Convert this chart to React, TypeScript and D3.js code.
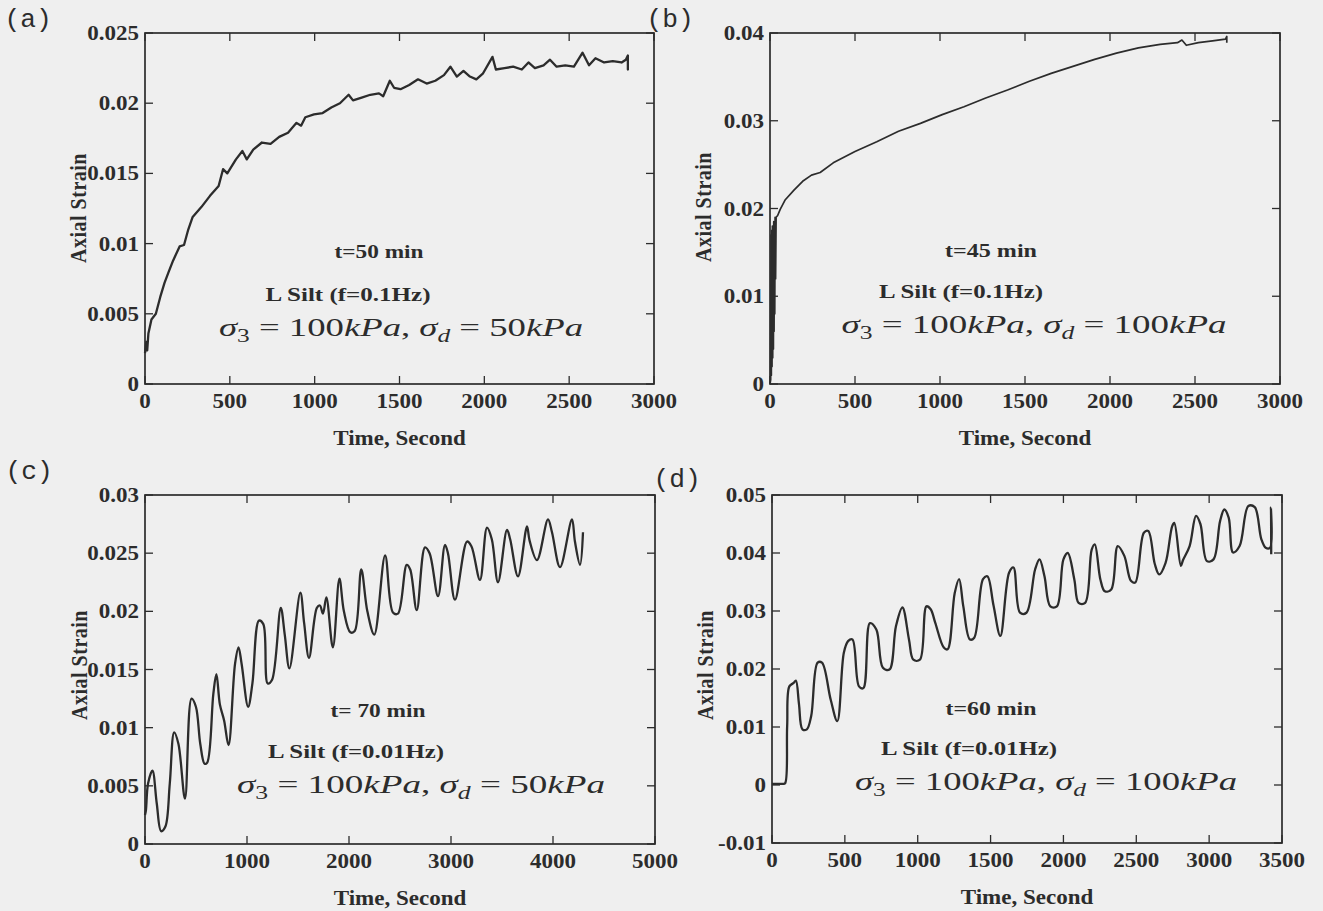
import React, { useEffect, useRef } from 'react';
import * as d3 from 'd3';

// ---- data: [time (s), axial strain] ----

// (a) t=50 min, f=0.1Hz, sigma_d = 50kPa
const creepA: [number, number][] = [
  [0, 0.0022], [8, 0.003], [13, 0.0024], [20, 0.0036], [38, 0.0046], [64, 0.005], [90, 0.0062],
  [115, 0.0072], [140, 0.008], [166, 0.0088], [204, 0.0098], [230, 0.0099], [255, 0.011],
  [281, 0.0119], [332, 0.0126], [383, 0.0134], [434, 0.0141], [460, 0.0153], [485, 0.015],
  [536, 0.016], [574, 0.0166], [600, 0.016], [638, 0.0167], [689, 0.0172], [740, 0.0171],
  [791, 0.0176], [843, 0.0179], [893, 0.0186], [920, 0.0184], [945, 0.019], [996, 0.0192],
  [1047, 0.0193], [1098, 0.0197], [1149, 0.02], [1200, 0.0206], [1226, 0.0202], [1277, 0.0204],
  [1328, 0.0206], [1379, 0.0207], [1404, 0.0205], [1443, 0.0216], [1468, 0.0211], [1506, 0.021],
  [1557, 0.0213], [1609, 0.0217], [1660, 0.0214], [1711, 0.0216], [1762, 0.022], [1800, 0.0226],
  [1838, 0.0219], [1877, 0.0223], [1915, 0.0219], [1953, 0.0217], [1991, 0.0221], [2048, 0.0233],
  [2068, 0.0224], [2119, 0.0225], [2170, 0.0226], [2221, 0.0224], [2260, 0.0229], [2298, 0.0225],
  [2349, 0.0227], [2387, 0.0231], [2426, 0.0226], [2477, 0.0227], [2528, 0.0226], [2579, 0.0236],
  [2617, 0.0227], [2655, 0.0232], [2706, 0.0229], [2757, 0.023], [2809, 0.0229], [2834, 0.0231],
  [2846, 0.0234], [2846, 0.0224], [2846, 0.023],
];

// (b) t=45 min, f=0.1Hz, sigma_d = 100kPa
const creepB: [number, number][] = [
  [0, 0], [4, 0.0005], [6, 0.017], [8, 0.001], [10, 0.0175], [12, 0.002], [14, 0.018],
  [16, 0.003], [18, 0.018], [20, 0.004], [22, 0.0185], [24, 0.006], [26, 0.0185], [28, 0.008],
  [30, 0.019], [33, 0.012], [36, 0.019], [45, 0.0192], [60, 0.0199], [90, 0.021], [141, 0.0221],
  [192, 0.0231], [244, 0.0238], [295, 0.0241], [372, 0.0252], [500, 0.0265], [628, 0.0276],
  [756, 0.0288], [885, 0.0297], [1013, 0.0307], [1141, 0.0316], [1269, 0.0326], [1397, 0.0335],
  [1526, 0.0345], [1654, 0.0354], [1782, 0.0362], [1910, 0.037], [2038, 0.0377], [2167, 0.0383],
  [2295, 0.0387], [2397, 0.0389], [2423, 0.0392], [2449, 0.0386], [2520, 0.0389], [2603, 0.0391],
  [2679, 0.0393], [2687, 0.0396], [2687, 0.0389],
];

// (c) t=70 min, f=0.01Hz, sigma_d = 50kPa
const creepC: [number, number][] = [
  [0, 0.0025], [9, 0.0029], [30, 0.0052], [73, 0.0063], [115, 0.0035], [158, 0.0011], [200, 0.0015],
  [243, 0.0052], [286, 0.0096], [328, 0.0086], [392, 0.0039], [456, 0.0125], [499, 0.0118],
  [542, 0.0086], [584, 0.0069], [610, 0.007], [670, 0.0129], [700, 0.0146], [734, 0.012],
  [776, 0.0106], [819, 0.0085], [883, 0.0155], [917, 0.0169], [947, 0.0155], [1011, 0.0118],
  [1053, 0.0138], [1117, 0.0192], [1160, 0.0189], [1203, 0.0138], [1245, 0.0141], [1331, 0.0203],
  [1370, 0.018], [1416, 0.0151], [1523, 0.0216], [1560, 0.019], [1608, 0.016], [1685, 0.0203],
  [1715, 0.0205], [1745, 0.0198], [1778, 0.0212], [1842, 0.0169], [1906, 0.0228], [1950, 0.02],
  [2013, 0.0182], [2056, 0.0183], [2120, 0.0236], [2180, 0.02], [2248, 0.018], [2354, 0.0248],
  [2431, 0.0199], [2480, 0.0198], [2566, 0.024], [2600, 0.0236], [2664, 0.0201], [2745, 0.0255],
  [2790, 0.025], [2873, 0.0213], [2941, 0.0257], [2970, 0.025], [3039, 0.021], [3157, 0.026],
  [3200, 0.0256], [3284, 0.0227], [3353, 0.0272], [3400, 0.0262], [3461, 0.0225], [3549, 0.027],
  [3580, 0.0262], [3657, 0.023], [3745, 0.0273], [3770, 0.0261], [3843, 0.0244], [3951, 0.0279],
  [3990, 0.0268], [4069, 0.0238], [4186, 0.0279], [4215, 0.026], [4265, 0.024], [4294, 0.0268],
];

// (d) t=60 min, f=0.01Hz, sigma_d = 100kPa
const creepD: [number, number][] = [
  [0, 0.0002], [40, 0.0002], [75, 0.0002], [90, 0.0003], [104, 0.0101], [119, 0.017], [149, 0.0176],
  [164, 0.018], [185, 0.014], [209, 0.0096], [239, 0.0096], [269, 0.0119], [313, 0.0211],
  [343, 0.0211], [403, 0.0147], [448, 0.011], [493, 0.0228], [522, 0.0248], [552, 0.0251],
  [597, 0.017], [627, 0.0167], [672, 0.0279], [716, 0.0268], [761, 0.0202], [806, 0.0199],
  [851, 0.0274], [895, 0.0306], [940, 0.0251], [970, 0.0216], [1015, 0.0216], [1060, 0.0308],
  [1089, 0.0303], [1120, 0.028], [1179, 0.0237], [1205, 0.0234], [1254, 0.0331], [1284, 0.0355],
  [1313, 0.0308], [1358, 0.0251], [1388, 0.0254], [1448, 0.0355], [1478, 0.036], [1520, 0.031],
  [1567, 0.0257], [1627, 0.0366], [1657, 0.0375], [1702, 0.0297], [1746, 0.0297], [1806, 0.0372],
  [1836, 0.0389], [1870, 0.036], [1910, 0.0308], [1955, 0.0308], [2000, 0.0389], [2030, 0.04],
  [2075, 0.0354], [2104, 0.0314], [2149, 0.0314], [2194, 0.0406], [2215, 0.0415], [2254, 0.0354],
  [2284, 0.0334], [2328, 0.0337], [2373, 0.0412], [2418, 0.0395], [2463, 0.0352], [2493, 0.0349],
  [2552, 0.0435], [2582, 0.0438], [2627, 0.0381], [2657, 0.0363], [2701, 0.0383], [2746, 0.0446],
  [2761, 0.0452], [2806, 0.0378], [2821, 0.0388], [2866, 0.0412], [2910, 0.0464], [2940, 0.045],
  [2985, 0.0386], [3030, 0.0389], [3075, 0.0455], [3104, 0.0475], [3134, 0.0461], [3164, 0.0401],
  [3209, 0.0412], [3269, 0.0481], [3313, 0.0479], [3358, 0.0424], [3388, 0.0409], [3418, 0.0409],
  [3424, 0.0478], [3426, 0.0398],
];

// tick values
const xTicksAB = [0, 500, 1000, 1500, 2000, 2500, 3000];
const xTicksC = [0, 1000, 2000, 3000, 4000, 5000];
const xTicksD = [0, 500, 1000, 1500, 2000, 2500, 3000, 3500];
const yTicksA = [0, 0.005, 0.01, 0.015, 0.02, 0.025];
const yTicksB = [0, 0.01, 0.02, 0.03, 0.04];
const yTicksC = [0, 0.005, 0.01, 0.015, 0.02, 0.025, 0.03];
const yTicksD = [-0.01, 0, 0.01, 0.02, 0.03, 0.04, 0.05];

// annotation text
const durations = ['t=50 min', 't=45 min', 't= 70 min', 't=60 min'];
const soils = ['L Silt (f=0.1Hz)', 'L Silt (f=0.1Hz)', 'L Silt (f=0.01Hz)', 'L Silt (f=0.01Hz)'];
const deviator = ['50', '100', '50', '100'];
const panelNames = ['(a)', '(b)', '(c)', '(d)'];

const W = 1323;
const H = 911;
const INK = '#2c2c2c';
const SERIF = '"Liberation Serif", "Times New Roman", serif';

const panels = [
  {
    data: creepA, xTicks: xTicksAB, yTicks: yTicksA, xDomain: [0, 3000], yDomain: [0, 0.025],
    box: { l: 145, r: 654, t: 33, b: 384 }, smooth: false, lw: 2.3,
    name: [28, 27], ylab: [86, 208],
    notes: { t: [379, 258, 89], soil: [348, 301, 165], eq: [401, 336, 364] },
  },
  {
    data: creepB, xTicks: xTicksAB, yTicks: yTicksB, xDomain: [0, 3000], yDomain: [0, 0.04],
    box: { l: 770, r: 1280, t: 33, b: 384 }, smooth: false, lw: 1.7,
    name: [670, 27], ylab: [711, 207],
    notes: { t: [991, 257, 92], soil: [961, 298, 164], eq: [1034, 333, 385] },
  },
  {
    data: creepC, xTicks: xTicksC, yTicks: yTicksC, xDomain: [0, 5000], yDomain: [0, 0.03],
    box: { l: 145, r: 655, t: 495, b: 844 }, smooth: true, lw: 2.3,
    name: [29, 479], ylab: [87, 665],
    notes: { t: [378, 717, 95], soil: [356, 758, 176], eq: [421, 793, 368] },
  },
  {
    data: creepD, xTicks: xTicksD, yTicks: yTicksD, xDomain: [0, 3500], yDomain: [-0.01, 0.05],
    box: { l: 772, r: 1282, t: 495, b: 843 }, smooth: true, lw: 2.3,
    name: [677, 487], ylab: [713, 665],
    notes: { t: [991, 715, 91], soil: [969, 755, 176], eq: [1046, 790, 382] },
  },
];

const fmt = (v: number) => String(+v.toFixed(4));

const App = () => {
  const svgRef = useRef<SVGSVGElement>(null);

  useEffect(() => {
    const svg = d3.select(svgRef.current);
    svg.selectAll('*').remove();

    svg.append('rect').attr('width', W).attr('height', H).attr('fill', '#efefef');

    panels.forEach((p, i) => {
      const { l, r, t, b } = p.box;
      const x = d3.scaleLinear().domain(p.xDomain).range([l, r]);
      const y = d3.scaleLinear().domain(p.yDomain).range([b, t]);
      const g = svg.append('g');

      // box
      g.append('rect')
        .attr('x', l).attr('y', t)
        .attr('width', r - l).attr('height', b - t)
        .attr('fill', 'none')
        .attr('stroke', INK)
        .attr('stroke-width', 1.7);

      // inward ticks on all four sides
      const tk = 8;
      p.xTicks.forEach(v => {
        g.append('line').attr('x1', x(v)).attr('x2', x(v)).attr('y1', b).attr('y2', b - tk)
          .attr('stroke', INK).attr('stroke-width', 1.3);
        g.append('line').attr('x1', x(v)).attr('x2', x(v)).attr('y1', t).attr('y2', t + tk)
          .attr('stroke', INK).attr('stroke-width', 1.3);
        g.append('g')
          .attr('transform', `translate(${x(v)},${b + 24}) scale(1.15,1)`)
          .append('text')
          .attr('text-anchor', 'middle')
          .style('font-family', SERIF).style('font-weight', 'bold').style('font-size', '20px')
          .attr('fill', INK)
          .text(fmt(v));
      });
      p.yTicks.forEach(v => {
        g.append('line').attr('x1', l).attr('x2', l + tk).attr('y1', y(v)).attr('y2', y(v))
          .attr('stroke', INK).attr('stroke-width', 1.3);
        g.append('line').attr('x1', r).attr('x2', r - tk).attr('y1', y(v)).attr('y2', y(v))
          .attr('stroke', INK).attr('stroke-width', 1.3);
        g.append('g')
          .attr('transform', `translate(${l - 6},${y(v) + 7}) scale(1.15,1)`)
          .append('text')
          .attr('text-anchor', 'end')
          .style('font-family', SERIF).style('font-weight', 'bold').style('font-size', '20px')
          .attr('fill', INK)
          .text(fmt(v));
      });

      // axis titles
      g.append('g')
        .attr('transform', `translate(${(l + r) / 2},${b + 61}) scale(1.15,1)`)
        .append('text')
        .attr('text-anchor', 'middle')
        .style('font-family', SERIF).style('font-weight', 'bold').style('font-size', '20px')
        .attr('fill', INK)
        .text('Time, Second');
      g.append('g')
        .attr('transform', `translate(${p.ylab[0]},${p.ylab[1]}) scale(1.15,1) rotate(-90)`)
        .append('text')
        .attr('text-anchor', 'middle')
        .style('font-family', SERIF).style('font-weight', 'bold').style('font-size', '20px')
        .style('letter-spacing', '0.5px')
        .attr('fill', INK)
        .text('Axial Strain');

      // panel letter
      g.append('g')
        .attr('transform', `translate(${p.name[0]},${p.name[1]}) scale(1.05,1)`)
        .append('text')
        .attr('text-anchor', 'middle')
        .style('font-family', '"Liberation Mono", "DejaVu Sans Mono", monospace')
        .style('font-size', '25px')
        .attr('fill', INK)
        .text(panelNames[i]);

      // annotations
      const n = p.notes;
      g.append('text')
        .attr('x', n.t[0] - n.t[2] / 2).attr('y', n.t[1])
        .attr('textLength', n.t[2]).attr('lengthAdjust', 'spacingAndGlyphs')
        .style('font-family', SERIF).style('font-weight', 'bold').style('font-size', '18px')
        .attr('fill', INK)
        .text(durations[i]);
      g.append('text')
        .attr('x', n.soil[0] - n.soil[2] / 2).attr('y', n.soil[1])
        .attr('textLength', n.soil[2]).attr('lengthAdjust', 'spacingAndGlyphs')
        .style('font-family', SERIF).style('font-weight', 'bold').style('font-size', '18px')
        .attr('fill', INK)
        .text(soils[i]);

      const eq = g.append('text')
        .attr('x', n.eq[0] - n.eq[2] / 2).attr('y', n.eq[1])
        .attr('textLength', n.eq[2]).attr('lengthAdjust', 'spacingAndGlyphs')
        .style('font-family', SERIF).style('font-size', '26px')
        .attr('fill', INK);
      eq.append('tspan').style('font-style', 'italic').text('σ');
      eq.append('tspan').attr('dy', 6).style('font-size', '18px').text('3');
      eq.append('tspan').attr('dy', -6).text(' = 100');
      eq.append('tspan').style('font-style', 'italic').text('kPa');
      eq.append('tspan').text(', ');
      eq.append('tspan').style('font-style', 'italic').text('σ');
      eq.append('tspan').attr('dy', 6).style('font-size', '18px').style('font-style', 'italic').text('d');
      eq.append('tspan').attr('dy', -6).text(` = ${deviator[i]}`);
      eq.append('tspan').style('font-style', 'italic').text('kPa');

      // strain history
      const line = d3.line<[number, number]>()
        .x(d => x(d[0]))
        .y(d => y(d[1]))
        .curve(p.smooth ? d3.curveCatmullRom.alpha(0.5) : d3.curveLinear);
      g.append('path')
        .datum(p.data)
        .attr('d', line)
        .attr('fill', 'none')
        .attr('stroke', INK)
        .attr('stroke-width', p.lw)
        .attr('stroke-linejoin', 'round');
    });
  }, []);

  return (
    <svg ref={svgRef} width={W} height={H}
      style={{ position: 'absolute', left: 0, top: 0, display: 'block' }} />
  );
};

export default App;
